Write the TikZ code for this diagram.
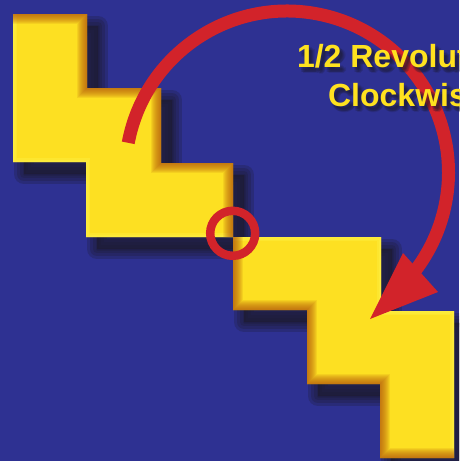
\documentclass[tikz,border=0pt]{standalone}
\usepackage{fontspec}
\setsansfont{Liberation Sans}
\definecolor{bg}{HTML}{2E3192}
\definecolor{yel}{HTML}{FDE022}
\definecolor{ylight}{HTML}{FFF24A}
\definecolor{yedge}{HTML}{B0500C}
\definecolor{rd}{HTML}{D2232A}
\definecolor{shc}{HTML}{1E1C33}
\definecolor{ytext}{HTML}{FFE21F}
\tikzset{
  lbl/.style={font=\sffamily\bfseries\fontsize{32}{38}\selectfont, anchor=base, inner sep=0pt},
  shadowpath/.style={shc, opacity=0.27, line join=round},
  edgedark/.style={yedge, opacity=0.11},
  edgelight/.style={ylight, opacity=0.35},
  redline/.style={rd}
}
\def\upath{(13,14)--(87,14)--(87,88)--(161,88)--(161,163)--(233,163)--(233,237)--(86,237)--(86,162)--(13,162)--cycle}
\def\lpath{(233,237)--(381,237)--(381,311)--(454,311)--(454,458)--(380,458)--(380,384)--(307,384)--(307,310)--(233,310)--cycle}
\begin{document}
\begin{tikzpicture}[x=1pt,y=-1pt]
\useasboundingbox (0,0) rectangle (459,461);
\clip (0,0) rectangle (459,461);
\fill[bg] (0,0) rectangle (459,461);
% drop shadows
\foreach \w in {20,14,8,3}{
  \begin{scope}[shift={(11,12)}]
    \filldraw[shadowpath, line width=\w pt] \upath;
    \filldraw[shadowpath, line width=\w pt] \lpath;
  \end{scope}
}
% upper staircase
\fill[yel] \upath;
\begin{scope}
  \clip \upath;
  \foreach \w in {2,5,8}{
    \draw[edgelight, line width=\w pt] (233,237)--(86,237)--(86,162)--(13,162)--(13,14);
  }
  \foreach \w in {2,4,...,20}{
    \draw[edgedark, line width=\w pt] (13,14)--(87,14)--(87,88)--(161,88)--(161,163)--(233,163)--(233,237);
  }
\end{scope}
% lower staircase
\fill[yel] \lpath;
\begin{scope}
  \clip \lpath;
  \foreach \w in {2,5,8}{
    \draw[edgelight, line width=\w pt] (233,237)--(381,237)--(381,311)--(454,311)--(454,458);
  }
  \foreach \w in {2,4,...,20}{
    \draw[edgedark, line width=\w pt] (454,458)--(380,458)--(380,384)--(307,384)--(307,310)--(233,310)--(233,237);
  }
\end{scope}
% red arrow
\coordinate (c) at (287,172.5);
\coordinate (tip) at (370,319);
\coordinate (hl) at (403,253);
\coordinate (hr) at (438,292);
\draw[redline, line width=13pt] (128.25,142.8) arc[start angle=190.6, end angle=400, radius=161.5];
\fill[redline] (tip) -- (hl) -- (hr) -- cycle;
% pivot circle
\node[draw=rd, line width=8.5pt, circle, minimum size=45pt, inner sep=0pt] (pivot) at (232.7,233.3) {};
% text shadow
\foreach \dx/\dy in {2/3,4/3,3/5,5/5,3/2,4/6,6/4,2/5}{
  \node[lbl, text=shc, opacity=0.16] at (406.4+\dx,67+\dy) {1/2 Revolution};
  \node[lbl, text=shc, opacity=0.16] at (406.4+\dx,106+\dy) {Clockwise};
}
\node[lbl, text=ytext] (t1) at (406.4,67) {1/2 Revolution};
\node[lbl, text=ytext] (t2) at (406.4,106) {Clockwise};
\end{tikzpicture}
\end{document}
